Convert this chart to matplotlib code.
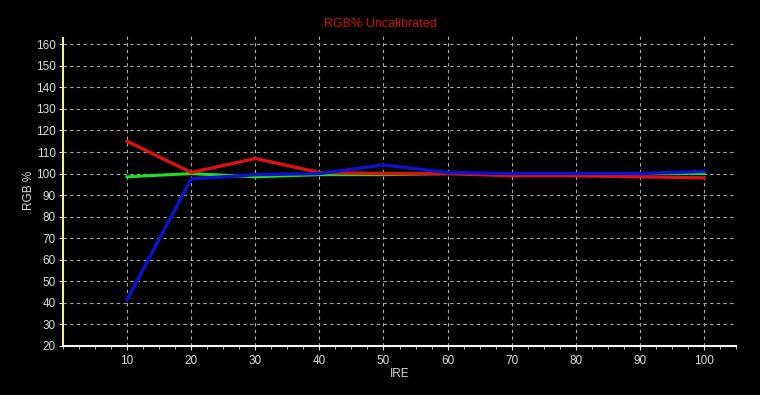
import numpy as np
import matplotlib
matplotlib.use('Agg')
import matplotlib.pyplot as plt
from matplotlib.ticker import MultipleLocator

ire = [10, 20, 30, 40, 50, 60, 70, 80, 90, 100]
red = [115, 100.5, 107, 100.5, 100, 100, 99, 99, 98.5, 98]
green = [98.5, 100, 98.5, 99.5, 99.5, 100, 100, 100, 100, 100]
blue = [41.5, 97.5, 99.5, 100, 104, 100.5, 100, 100, 100, 101]
y_ticks = list(range(20, 161, 10))

plt.rcParams['font.family'] = ['Liberation Sans', 'DejaVu Sans']

fig = plt.figure(figsize=(7.6, 3.95), dpi=100, facecolor='black')
ax = fig.add_axes([63 / 760, 1 - 346 / 395, 673 / 760, 311 / 395], facecolor='black')

ax.plot(ire, green, color='#22dd22', lw=2.2, zorder=3)
ax.plot(ire, red, color='#dd1111', lw=2.4, zorder=4)
ax.plot(ire, blue, color='#0a14d0', lw=2.4, zorder=5)

ax.set_xlim(0, 105)
ax.set_ylim(20, 164.3)
ax.set_xticks(ire)
ax.set_yticks(y_ticks)
ax.xaxis.set_minor_locator(MultipleLocator(2.5))

ax.grid(True, which='major', color='#aaaaaa', linestyle=(0, (3, 3)), lw=0.8)
ax.tick_params(colors='#dddddd', labelsize=8.5, length=3, width=0.8)
ax.tick_params(axis='y', pad=2)
ax.tick_params(which='minor', colors='#dddddd', length=2, width=0.6)

for s in ['top', 'right']:
    ax.spines[s].set_visible(False)
ax.spines['left'].set_color('#f0f0a0')
ax.spines['left'].set_linewidth(1.5)
ax.spines['left'].set_bounds(20, 162.8)
ax.spines['bottom'].set_color('#f4f4f4')
ax.spines['bottom'].set_linewidth(1.5)

ax.set_xlabel('IRE', color='#dddddd', fontsize=8.5, labelpad=1)
ax.set_ylabel('RGB %', color='#dddddd', fontsize=8.5)
ax.yaxis.set_label_coords(-0.042, 0.5)
fig.text(0.5, 1 - 24 / 395, 'RGB% Uncalibrated', color='#d01010', fontsize=9,
         ha='center', va='center')

fig.savefig('out.png', dpi=100, facecolor='black')
